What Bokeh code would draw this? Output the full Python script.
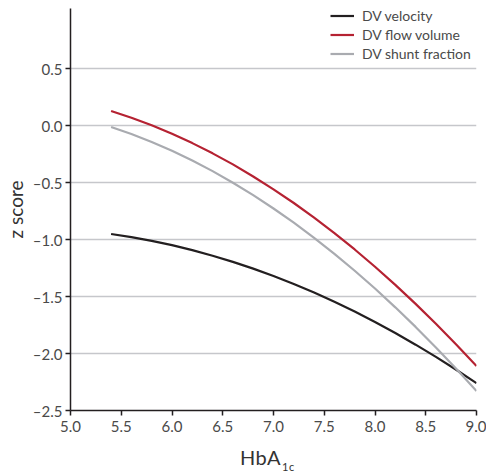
from bokeh.plotting import figure
from bokeh.models import FixedTicker, CustomJSTickFormatter, Legend, LegendItem, Div
from bokeh.layouts import column
from bokeh.embed import file_html
from bokeh.resources import INLINE

# HbA1c values where the fitted z scores are reported
hba1c = [5.4, 5.6, 5.8, 6.0, 6.2, 6.4, 6.6, 6.8, 7.0, 7.2, 7.4, 7.6, 7.8, 8.0, 8.2, 8.4, 8.6, 8.8, 9.0]

dv_velocity = [-0.950, -0.977, -1.010, -1.048, -1.092, -1.141, -1.195, -1.254, -1.319, -1.389,
               -1.464, -1.545, -1.631, -1.723, -1.820, -1.922, -2.029, -2.142, -2.260]
dv_flow_volume = [0.130, 0.071, 0.004, -0.070, -0.152, -0.242, -0.339, -0.445, -0.558, -0.678,
                  -0.806, -0.942, -1.086, -1.238, -1.397, -1.564, -1.738, -1.920, -2.110]
dv_shunt_fraction = [-0.010, -0.072, -0.142, -0.219, -0.305, -0.398, -0.500, -0.609, -0.726,
                     -0.851, -0.984, -1.124, -1.273, -1.429, -1.594, -1.766, -1.946, -2.134, -2.329]

x_ticks = [5.0, 5.5, 6.0, 6.5, 7.0, 7.5, 8.0, 8.5, 9.0]
y_ticks = [-2.5, -2.0, -1.5, -1.0, -0.5, 0.0, 0.5]

FONT = "Lato"
TEXT = "#4a4a4a"
TITLE = "#333333"

p = figure(width=486, height=450, x_range=(5.0, 9.0), y_range=(-2.5, 1.03),
           output_backend="svg", toolbar_location=None,
           min_border_left=68, min_border_right=10, min_border_top=8, min_border_bottom=40)
p.outline_line_color = None
p.background_fill_color = "white"

p.xgrid.visible = False
p.ygrid.grid_line_color = "#c6c7cb"
p.ygrid.grid_line_width = 1.5
p.ygrid.ticker = FixedTicker(ticks=y_ticks)

minus_fmt = CustomJSTickFormatter(code="""
    return (tick < 0 ? "\u2013" : "") + Math.abs(tick).toFixed(1);
""")

for ax in (p.xaxis[0], p.yaxis[0]):
    ax.axis_line_color = "#231f20"
    ax.axis_line_width = 1.5
    ax.major_tick_line_color = "#231f20"
    ax.major_tick_line_width = 1.5
    ax.major_tick_out = 5
    ax.major_tick_in = 0
    ax.minor_tick_line_color = None
    ax.major_label_text_font = FONT
    ax.major_label_text_font_size = "15px"
    ax.major_label_text_color = TEXT
    ax.axis_label_text_font = FONT
    ax.axis_label_text_font_style = "normal"
    ax.axis_label_text_color = TITLE

p.xaxis.ticker = FixedTicker(ticks=x_ticks)
p.xaxis.formatter = CustomJSTickFormatter(code="return tick.toFixed(1);")
p.xaxis.major_label_standoff = 5

p.yaxis.ticker = FixedTicker(ticks=y_ticks)
p.yaxis.formatter = minus_fmt
p.yaxis.major_label_standoff = 3
p.yaxis.axis_label = "z score"
p.yaxis.axis_label_text_font_size = "19px"
p.yaxis.axis_label_standoff = 3

r_vel = p.line(hba1c, dv_velocity, line_color="#231f20", line_width=2.2)
r_flow = p.line(hba1c, dv_flow_volume, line_color="#b52232", line_width=2.2)
r_shunt = p.line(hba1c, dv_shunt_fraction, line_color="#a9abb0", line_width=2.2)

legend = Legend(items=[LegendItem(label="DV velocity", renderers=[r_vel]),
                       LegendItem(label="DV flow volume", renderers=[r_flow]),
                       LegendItem(label="DV shunt fraction", renderers=[r_shunt])],
                location=(260, 347))
legend.border_line_color = None
legend.background_fill_alpha = 0
legend.label_text_font = FONT
legend.label_text_font_size = "14px"
legend.label_text_color = TEXT
legend.glyph_width = 24
legend.glyph_height = 19
legend.label_height = 19
legend.label_standoff = 8
legend.spacing = 0
legend.padding = 0
legend.margin = 0
p.add_layout(legend)

# x-axis title with a real subscript, set as HTML under the plot
x_title = Div(
    text='<span style="position:relative;top:-2px">HbA<sub style="font-size:11px;'
         'vertical-align:-6px;margin-left:1px">1c</sub></span>',
    width=486, height=23, margin=0,
    styles={"font-family": FONT, "font-size": "20px", "line-height": "18px",
            "color": TITLE, "padding-left": "240px", "letter-spacing": "0.5px",
            "white-space": "nowrap"})

layout = column(p, x_title, spacing=0)

open("out.html", "w").write(file_html(layout, INLINE))
